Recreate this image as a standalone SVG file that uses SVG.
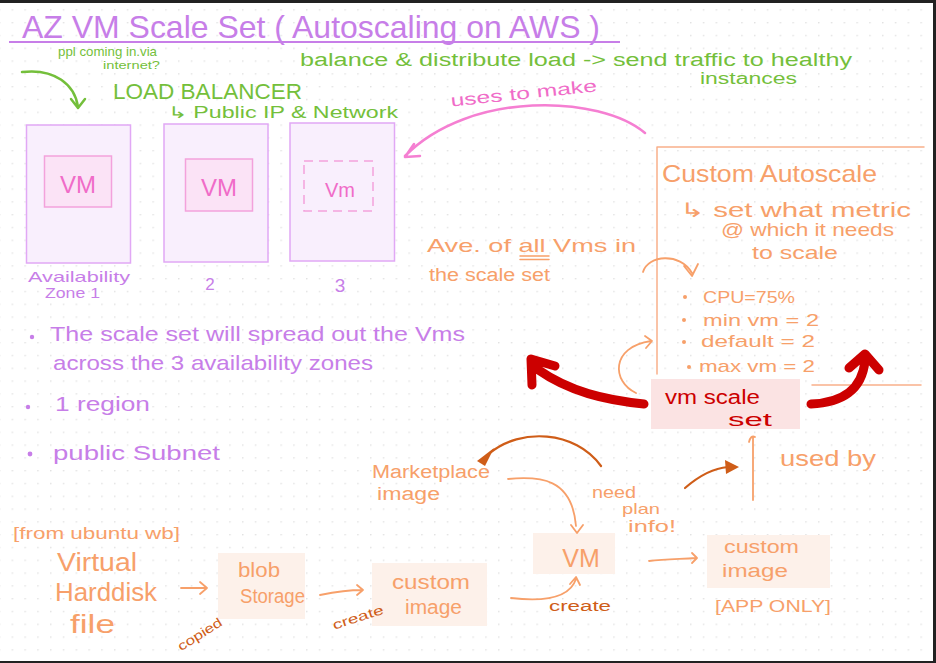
<svg xmlns="http://www.w3.org/2000/svg" width="936" height="663" viewBox="0 0 936 663">
<defs>
<pattern id="dots" patternUnits="userSpaceOnUse" x="-1.2" y="9.2" width="12.8" height="12.8">
<circle cx="0.8" cy="0.8" r="0.75" fill="#d9d9d9"/>
</pattern>
<style>
text{font-family:"Liberation Sans",Arial,sans-serif}
.v{fill:#c77ee8}
.g{fill:#74bf3b}
.p{fill:#f06cc8}
.o{fill:#f7a06a}
.d{fill:#cf5d18}
.r{fill:#cc0000}
.ln{fill:none;stroke-linecap:round;stroke-linejoin:round}
.zone{fill:#f9effd;stroke:#e1a8f5;stroke-width:1.5}
.vm{fill:#fbe3f6;stroke:#f3a2dc;stroke-width:1.5}
.obox{fill:#fdf1ea}
</style>
</defs>
<rect x="0" y="0" width="936" height="663" fill="#222"/>
<rect x="0" y="3" width="933" height="658" fill="#fff"/>
<rect x="0" y="3" width="933" height="658" fill="url(#dots)"/>

<g id="title">
<text class="v" x="22" y="38" font-size="32" textLength="578" lengthAdjust="spacingAndGlyphs">AZ VM Scale Set ( Autoscaling on AWS )</text>
<line x1="9" y1="42" x2="620" y2="42" stroke="#c77ee8" stroke-width="2"/>
</g>

<g id="notes-green">
<text class="g" x="58" y="56" font-size="13" textLength="99" lengthAdjust="spacingAndGlyphs">ppl coming in.via</text>
<text class="g" x="103" y="69" font-size="11" textLength="57" lengthAdjust="spacingAndGlyphs">internet?</text>
<text class="g" x="300" y="66" font-size="18" textLength="552" lengthAdjust="spacingAndGlyphs">balance &amp; distribute load -&gt; send traffic to healthy</text>
<text class="g" x="700" y="84" font-size="16" textLength="97" lengthAdjust="spacingAndGlyphs">instances</text>
</g>

<g id="load-balancer">
<text class="g" x="113" y="99" font-size="22" textLength="189" lengthAdjust="spacingAndGlyphs">LOAD BALANCER</text>
<text class="g" x="168" y="118" font-size="16" textLength="230" lengthAdjust="spacingAndGlyphs">↳ Public IP &amp; Network</text>
</g>

<g id="zone1">
<rect class="zone" x="26.5" y="125" width="104" height="138"/>
<rect class="vm" x="44.5" y="156" width="67" height="51"/>
<text class="p" x="78" y="193" font-size="24" text-anchor="middle">VM</text>
<text class="v" x="28" y="282" font-size="15" textLength="102" lengthAdjust="spacingAndGlyphs">Availability</text>
<text class="v" x="45" y="298" font-size="15" textLength="55" lengthAdjust="spacingAndGlyphs">Zone 1</text>
</g>
<g id="zone2">
<rect class="zone" x="164" y="124" width="104" height="138"/>
<rect class="vm" x="185.5" y="159" width="67" height="52"/>
<text class="p" x="219" y="196" font-size="24" text-anchor="middle">VM</text>
<text class="v" x="210" y="290" font-size="17" text-anchor="middle">2</text>
</g>
<g id="zone3">
<rect class="zone" x="290" y="123" width="104.5" height="138"/>
<rect x="304" y="161" width="69" height="50" fill="none" stroke="#f3a2dc" stroke-width="1.5" stroke-dasharray="9 6"/>
<text class="p" x="340" y="197" font-size="20" text-anchor="middle">Vm</text>
<text class="v" x="340" y="292" font-size="19" text-anchor="middle">3</text>
</g>

<g id="bullets-left">
<circle cx="32" cy="337" r="2.2" fill="#c77ee8"/>
<text class="v" x="50" y="341" font-size="21" textLength="415" lengthAdjust="spacingAndGlyphs">The scale set will spread out the Vms</text>
<text class="v" x="53" y="370" font-size="21" textLength="320" lengthAdjust="spacingAndGlyphs">across the 3 availability zones</text>
<circle cx="28" cy="407" r="2.2" fill="#c77ee8"/>
<text class="v" x="55" y="411" font-size="20" textLength="95" lengthAdjust="spacingAndGlyphs">1 region</text>
<circle cx="30" cy="454" r="2.4" fill="#c77ee8"/>
<text class="v" x="53" y="460" font-size="20" textLength="167" lengthAdjust="spacingAndGlyphs">public Subnet</text>
</g>

<g id="custom-autoscale">
<path class="ln" d="M657,147 H924 M657,147 V374 M812,385 H921" stroke="#f9b08a" stroke-width="1.5"/>
<text class="o" x="662" y="182" font-size="24" textLength="215" lengthAdjust="spacingAndGlyphs">Custom Autoscale</text>
<text class="o" x="680" y="217" font-size="20" textLength="231" lengthAdjust="spacingAndGlyphs">↳ set what metric</text>
<text class="o" x="721" y="236" font-size="19" textLength="173" lengthAdjust="spacingAndGlyphs">@ which it needs</text>
<text class="o" x="752" y="259" font-size="19" textLength="86" lengthAdjust="spacingAndGlyphs">to scale</text>
<circle cx="685" cy="297" r="2" fill="#f7a06a"/>
<text class="o" x="703" y="303" font-size="17" textLength="92" lengthAdjust="spacingAndGlyphs">CPU=75%</text>
<circle cx="684" cy="320" r="2" fill="#f7a06a"/>
<text class="o" x="703" y="326" font-size="17" textLength="116" lengthAdjust="spacingAndGlyphs">min vm = 2</text>
<circle cx="684" cy="342" r="2" fill="#f7a06a"/>
<text class="o" x="701" y="347" font-size="17" textLength="114" lengthAdjust="spacingAndGlyphs">default = 2</text>
<circle cx="689" cy="367" r="2" fill="#f7a06a"/>
<text class="o" x="699" y="372" font-size="17" textLength="116" lengthAdjust="spacingAndGlyphs">max vm = 2</text>
</g>

<g id="ave-note">
<text class="o" x="427" y="252" font-size="19" textLength="209" lengthAdjust="spacingAndGlyphs">Ave. of all Vms in</text>
<path class="ln" d="M520,256 H549 M520,259.5 H549" stroke="#f7a06a" stroke-width="1.5"/>
<text class="o" x="429" y="281" font-size="18" textLength="121" lengthAdjust="spacingAndGlyphs">the scale set</text>
</g>

<g id="vm-scale-set">
<rect x="651" y="379" width="149" height="50" fill="#fbe3e3"/>
<text class="r" x="665" y="404" font-size="20" textLength="95" lengthAdjust="spacingAndGlyphs">vm scale</text>
<text class="r" x="728" y="426" font-size="19" textLength="44" lengthAdjust="spacingAndGlyphs">set</text>
</g>

<g id="used-by">
<text class="o" x="780" y="466" font-size="22" textLength="96" lengthAdjust="spacingAndGlyphs">used by</text>
</g>

<g id="marketplace-image">
<text class="o" x="372" y="478" font-size="18" textLength="118" lengthAdjust="spacingAndGlyphs">Marketplace</text>
<text class="o" x="377" y="500" font-size="18" textLength="63" lengthAdjust="spacingAndGlyphs">image</text>
</g>

<g id="need-plan">
<text class="o" x="592" y="498" font-size="16" textLength="44" lengthAdjust="spacingAndGlyphs">need</text>
<text class="o" x="622" y="514" font-size="15" textLength="38" lengthAdjust="spacingAndGlyphs">plan</text>
<text class="o" x="628" y="532" font-size="16" textLength="48" lengthAdjust="spacingAndGlyphs">info!</text>
</g>

<g id="vm">
<rect class="obox" x="533" y="533" width="82" height="41"/>
<text class="o" x="581" y="567" font-size="25" text-anchor="middle">VM</text>
</g>

<g id="custom-image-app">
<rect class="obox" x="707" y="535" width="123" height="53"/>
<text class="o" x="724" y="553" font-size="18" textLength="75" lengthAdjust="spacingAndGlyphs">custom</text>
<text class="o" x="722" y="577" font-size="18" textLength="66" lengthAdjust="spacingAndGlyphs">image</text>
<text class="o" x="715" y="612" font-size="17" textLength="116" lengthAdjust="spacingAndGlyphs">[APP ONLY]</text>
</g>

<g id="vhd">
<text class="o" x="13" y="539" font-size="17" textLength="167" lengthAdjust="spacingAndGlyphs">[from ubuntu wb]</text>
<text class="o" x="57" y="571" font-size="26" textLength="80" lengthAdjust="spacingAndGlyphs">Virtual</text>
<text class="o" x="55" y="601" font-size="26" textLength="102" lengthAdjust="spacingAndGlyphs">Harddisk</text>
<text class="o" x="70" y="633" font-size="26" textLength="45" lengthAdjust="spacingAndGlyphs">file</text>
</g>

<g id="blob-storage">
<rect class="obox" x="218" y="553" width="87" height="66"/>
<text class="o" x="238" y="577" font-size="20" textLength="42" lengthAdjust="spacingAndGlyphs">blob</text>
<text class="o" x="240" y="603" font-size="20" textLength="65" lengthAdjust="spacingAndGlyphs">Storage</text>
</g>

<g id="custom-image">
<rect class="obox" x="372" y="563" width="115" height="63"/>
<text class="o" x="392" y="589" font-size="20" textLength="78" lengthAdjust="spacingAndGlyphs">custom</text>
<text class="o" x="405" y="614" font-size="20" textLength="57" lengthAdjust="spacingAndGlyphs">image</text>
</g>

<g id="connectors">
<path class="ln" d="M22,72 C55,68 75,85 78,107 M71,99 L78,108 L85,99" stroke="#74bf3b" stroke-width="2.5"/>
<path class="ln" d="M645,133 C600,95 470,90 405,156 M414,144 L405,157 L420,156" stroke="#f57fd2" stroke-width="2.5"/>
<text class="p" x="450" y="99" font-size="17" textLength="147" lengthAdjust="spacingAndGlyphs" transform="rotate(-6 523 92)">uses to make</text>
<path class="ln" d="M643,272 C648,255 680,252 692,273 M684,266 L692,276 L698,264" stroke="#f7a06a" stroke-width="1.8"/>
<path class="ln" d="M636,393 C612,382 610,347 651,341 M645,336 L652,341 L646,348" stroke="#f7a06a" stroke-width="1.8"/>
<path class="ln" d="M644,404 C605,400 570,392 537,369 M555,366 L531,359 L532,385" stroke="#cc0000" stroke-width="9"/>
<path class="ln" d="M811,404 C842,403 862,390 865,361 M849,368 L865,354 L879,370" stroke="#cc0000" stroke-width="9"/>
<path class="ln" d="M753,500 V437 M749,442 C750,438 752,435 755,437" stroke="#f7a06a" stroke-width="1.8"/>
<path class="ln" d="M685,488 C700,475 715,468 728,467" stroke="#cf5d18" stroke-width="2.2"/>
<path d="M725,460 L739,467 L726,474 Z" fill="#cf5d18"/>
<path class="ln" d="M601,466 C575,430 520,428 490,453" stroke="#cf5d18" stroke-width="2.2"/>
<path d="M477,461 L494,448 L485,466 Z" fill="#cf5d18"/>
<path class="ln" d="M508,479 C540,476 572,478 576,526 M571,525 L577,533 L583,525" stroke="#f7a06a" stroke-width="1.8"/>
<path class="ln" d="M649,561 C665,559 682,559 695,558 M692,553 L697,558 L692,563" stroke="#f7a06a" stroke-width="1.8"/>
<path class="ln" d="M511,598 C545,602 570,597 576,579 M570,584 L576,577 L580,585" stroke="#f7a06a" stroke-width="1.8"/>
<text class="d" x="549" y="611" font-size="14" textLength="62" lengthAdjust="spacingAndGlyphs">create</text>
<path class="ln" d="M181,588 H206 M200,582 L207,588 L200,594" stroke="#f7a06a" stroke-width="1.8"/>
<text class="d" x="172" y="640" font-size="13" textLength="50" lengthAdjust="spacingAndGlyphs" transform="rotate(-32 196 630)">copied</text>
<path class="ln" d="M320,595 C335,592 350,590 362,590 M357,585 L363,590 L357,595" stroke="#f7a06a" stroke-width="1.8"/>
<text class="d" x="331" y="622" font-size="13" textLength="53" lengthAdjust="spacingAndGlyphs" transform="rotate(-18 357 616)">create</text>
</g>
</svg>
